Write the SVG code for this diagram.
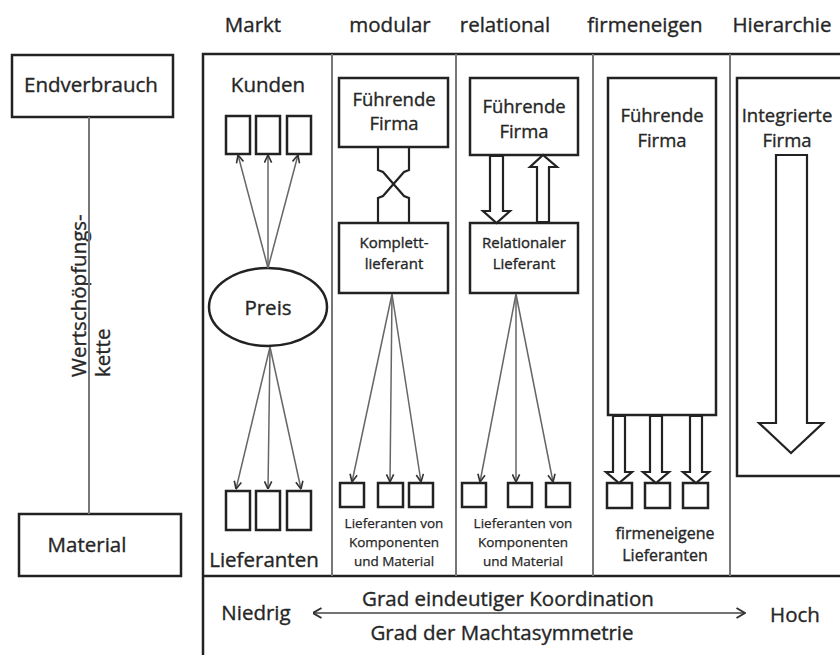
<svg xmlns="http://www.w3.org/2000/svg" width="840" height="655" viewBox="0 0 840 655">
<style>
text{font-family:"Open Sans","Liberation Sans",sans-serif;fill:#262626;stroke:#262626;stroke-width:0.35;text-anchor:middle}
.h{font-size:20.5px}
.b{font-size:18.5px}
.m{font-size:15px}
.s{font-size:13.5px;stroke-width:0.25}
.box{fill:#fff;stroke:#222;stroke-width:2.5}
.frame{fill:none;stroke:#222;stroke-width:2.5}
.div{stroke:#777;stroke-width:2;fill:none}
.thin{stroke:#666;stroke-width:1.5;fill:none}
.blk{fill:#fff;stroke:#222;stroke-width:2.2;stroke-linejoin:miter}
</style>
<defs>
<marker id="ah" viewBox="0 0 10 10" refX="9.5" refY="5" markerWidth="9" markerHeight="9" markerUnits="userSpaceOnUse" orient="auto">
<path d="M1,1 L9.5,5 L1,9" fill="none" stroke="#333" stroke-width="1.8"/>
</marker>
<marker id="ah2" viewBox="0 0 10 12" refX="9.5" refY="6" markerWidth="10" markerHeight="12" markerUnits="userSpaceOnUse" orient="auto-start-reverse">
<path d="M1,1 L9.5,6 L1,11" fill="none" stroke="#333" stroke-width="2"/>
</marker>
</defs>
<rect width="840" height="655" fill="#fff"/>

<!-- headers -->
<g id="headers">
<text class="h" x="253" y="32">Markt</text>
<text class="h" x="390" y="32">modular</text>
<text class="h" x="505" y="32">relational</text>
<text class="h" x="645" y="32">firmeneigen</text>
<text class="h" x="782" y="32">Hierarchie</text>
</g>

<!-- frame -->
<g id="frame">
<path class="frame" d="M845,54 H203 V655"/>
<path class="frame" d="M203,576 H845"/>
<path class="div" d="M332,54 V576 M456,54 V576 M593,54 V576 M730,54 V576"/>
</g>

<!-- value chain -->
<g id="endverbrauch">
<rect class="box" x="12" y="55" width="161" height="62"/>
<text class="h" x="91" y="92">Endverbrauch</text>
</g>
<g id="material">
<rect class="box" x="19" y="514" width="162" height="62"/>
<text class="h" x="87" y="552">Material</text>
</g>
<g id="wertschoepfungskette">
<text class="h" transform="rotate(-90)" x="-377" y="86" style="text-anchor:start">Wertschöpfungs-</text>
<text class="h" transform="rotate(-90)" x="-377" y="110" style="text-anchor:start">kette</text>
</g>

<!-- Markt -->
<g id="markt-kunden">
<text class="h" x="268" y="92">Kunden</text>
<rect class="box" x="226" y="116" width="24" height="38"/>
<rect class="box" x="256" y="116" width="24" height="38"/>
<rect class="box" x="287" y="116" width="24" height="38"/>
</g>
<g id="markt-preis">
<ellipse cx="268" cy="307" rx="59" ry="39" fill="#fff" stroke="#222" stroke-width="2.5"/>
<text class="h" x="268" y="315">Preis</text>
</g>
<g id="markt-lieferanten">
<rect class="box" x="226" y="491" width="24" height="39"/>
<rect class="box" x="256" y="491" width="24" height="39"/>
<rect class="box" x="287" y="491" width="24" height="39"/>
<text class="h" x="264" y="567">Lieferanten</text>
</g>

<!-- modular -->
<g id="modular-fuehrend">
<rect class="box" x="339" y="78" width="109" height="69"/>
<text class="b" x="394" y="106">Führende</text>
<text class="b" x="394" y="130">Firma</text>
</g>
<g id="modular-komplett">
<rect class="box" x="339" y="223" width="109" height="70"/>
<text class="m" x="394" y="248">Komplett-</text>
<text class="m" x="394" y="269">lieferant</text>
</g>
<g id="modular-lieferanten">
<rect class="box" x="340" y="483" width="24" height="24"/>
<rect class="box" x="378" y="483" width="25" height="24"/>
<rect class="box" x="409" y="483" width="24" height="24"/>
<text class="s" x="394" y="528">Lieferanten von</text>
<text class="s" x="394" y="547">Komponenten</text>
<text class="s" x="394" y="566">und Material</text>
</g>

<!-- relational -->
<g id="relational-fuehrend">
<rect class="box" x="470" y="78" width="108" height="77"/>
<text class="b" x="524" y="113">Führende</text>
<text class="b" x="524" y="138">Firma</text>
</g>
<g id="relational-lieferant">
<rect class="box" x="470" y="223" width="108" height="70"/>
<text class="m" x="524" y="248">Relationaler</text>
<text class="m" x="524" y="269">Lieferant</text>
</g>
<g id="relational-lieferanten">
<rect class="box" x="462" y="483" width="24" height="24"/>
<rect class="box" x="508" y="483" width="24" height="24"/>
<rect class="box" x="546" y="483" width="24" height="24"/>
<text class="s" x="523" y="528">Lieferanten von</text>
<text class="s" x="523" y="547">Komponenten</text>
<text class="s" x="523" y="566">und Material</text>
</g>

<!-- firmeneigen -->
<g id="firmeneigen-fuehrend">
<rect class="box" x="608" y="78" width="108" height="337"/>
<text class="b" x="662" y="122">Führende</text>
<text class="b" x="662" y="147">Firma</text>
</g>
<g id="firmeneigen-lieferanten">
<rect class="box" x="607" y="483" width="25" height="25"/>
<rect class="box" x="645" y="483" width="25" height="25"/>
<rect class="box" x="683" y="483" width="25" height="25"/>
<text x="665" y="539" style="font-size:16px">firmeneigene</text>
<text x="665" y="561" style="font-size:16px">Lieferanten</text>
</g>

<!-- Hierarchie -->
<g id="hierarchie-firma">
<rect class="box" x="737" y="78" width="120" height="398"/>
<text class="b" x="787" y="122">Integrierte</text>
<text class="b" x="787" y="147">Firma</text>
</g>

<!-- connectors -->
<g id="connectors">
<path class="div" d="M89,117 V514"/>
<path class="thin" marker-end="url(#ah)" d="M268,268 L238,155"/>
<path class="thin" marker-end="url(#ah)" d="M268,268 L268,155"/>
<path class="thin" marker-end="url(#ah)" d="M268,268 L298,155"/>
<path class="thin" marker-end="url(#ah)" d="M270,347 L236,489"/>
<path class="thin" marker-end="url(#ah)" d="M270,347 L268,489"/>
<path class="thin" marker-end="url(#ah)" d="M270,347 L301,489"/>
<path d="M378,147 V170 L383,172 L404,196 L409,198 V223" fill="none" stroke="#222" stroke-width="2.2"/>
<path d="M409,147 V170 L404,172 L383,196 L378,198 V223" fill="none" stroke="#222" stroke-width="2.2"/>
<path class="thin" marker-end="url(#ah)" d="M392,294 L352,482"/>
<path class="thin" marker-end="url(#ah)" d="M392,294 L390,482"/>
<path class="thin" marker-end="url(#ah)" d="M392,294 L421,482"/>
<polygon class="blk" points="490,156 503,156 503,211 510,211 496.5,223 483,211 490,211"/>
<polygon class="blk" points="537,222 537,167 530,167 543,155 557,167 549,167 549,222"/>
<path class="thin" marker-end="url(#ah)" d="M516,294 L480,482"/>
<path class="thin" marker-end="url(#ah)" d="M516,294 L516,482"/>
<path class="thin" marker-end="url(#ah)" d="M516,294 L553,482"/>
<polygon class="blk" points="613,416 625,416 625,472 632,472 619,483 606,472 613,472"/>
<polygon class="blk" points="650,416 662,416 662,472 669,472 656,483 643,472 650,472"/>
<polygon class="blk" points="690,416 702,416 702,472 709,472 696,483 683,472 690,472"/>
<polygon class="blk" points="776,155 807,155 807,423 823,423 791,453 759,423 776,423"/>
<path d="M313,613 H745" fill="none" stroke="#444" stroke-width="1.5" marker-start="url(#ah2)" marker-end="url(#ah2)"/>
</g>

<!-- bottom axis labels -->
<g id="axis">
<text class="h" x="256" y="620">Niedrig</text>
<text class="h" x="795" y="622">Hoch</text>
<text class="h" x="508" y="606">Grad eindeutiger Koordination</text>
<text class="h" x="502" y="640">Grad der Machtasymmetrie</text>
</g>
</svg>
